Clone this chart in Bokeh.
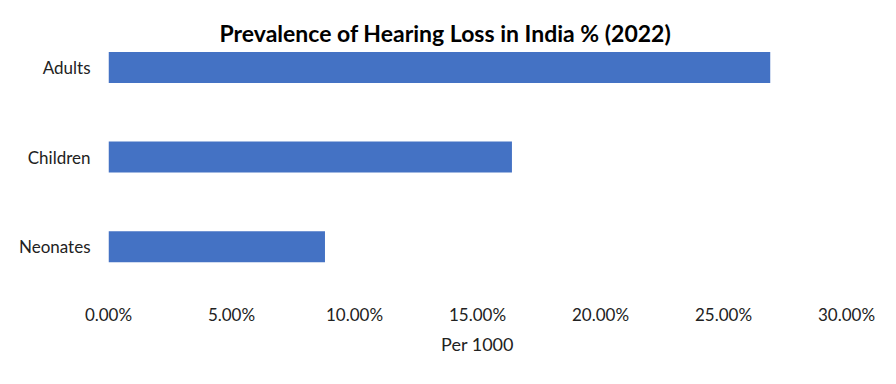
from bokeh.plotting import figure
from bokeh.models import Range1d, FixedTicker, NumeralTickFormatter, Title
from bokeh.embed import file_html
from bokeh.resources import INLINE

categories = ["Neonates", "Children", "Adults"]
values = [0.088, 0.164, 0.269]
x_ticks = [0.0, 0.05, 0.10, 0.15, 0.20, 0.25, 0.30]
title_text = "Prevalence of Hearing Loss in India % (2022)"
x_label = "Per 1000"

FONT = "Lato"
pos = list(range(len(categories)))

p = figure(width=880, height=368, output_backend="svg", toolbar_location=None,
           x_range=Range1d(0, 0.30), y_range=Range1d(-0.5, 2.19),
           min_border_left=108, min_border_right=34, min_border_top=50,
           min_border_bottom=77, title=None)

p.hbar(y=pos, right=values, left=0, height=0.346, color="#4472C4", line_color=None)

t = Title(text=title_text, align="left", text_font=FONT, text_font_size="23px",
          text_font_style="bold", text_color="#000000", offset=111, standoff=8)
p.add_layout(t, "above")

p.xaxis.ticker = FixedTicker(ticks=x_ticks)
p.xaxis.formatter = NumeralTickFormatter(format="0.00%")
p.xaxis.axis_line_color = None
p.xaxis.major_tick_line_color = None
p.xaxis.minor_tick_line_color = None
p.xaxis.major_tick_out = 0
p.xaxis.major_label_standoff = 12
p.xaxis.major_label_text_font = FONT
p.xaxis.major_label_text_font_size = "17px"
p.xaxis.major_label_text_color = "#222222"
p.xaxis.axis_label = x_label
p.xaxis.axis_label_text_font = FONT
p.xaxis.axis_label_text_font_size = "18px"
p.xaxis.axis_label_text_font_style = "normal"
p.xaxis.axis_label_text_color = "#222222"
p.xaxis.axis_label_standoff = 5

p.yaxis.ticker = FixedTicker(ticks=pos)
p.yaxis.major_label_overrides = {i: c for i, c in zip(pos, categories)}
p.yaxis.axis_line_color = None
p.yaxis.major_tick_line_color = None
p.yaxis.minor_tick_line_color = None
p.yaxis.major_tick_out = 0
p.yaxis.major_label_standoff = 18
p.yaxis.major_label_text_font = FONT
p.yaxis.major_label_text_font_size = "17px"
p.yaxis.major_label_text_color = "#222222"

p.xgrid.grid_line_color = None
p.ygrid.grid_line_color = None
p.outline_line_color = None
p.background_fill_color = "white"
p.border_fill_color = "white"

open("out.html", "w").write(file_html(p, INLINE))
